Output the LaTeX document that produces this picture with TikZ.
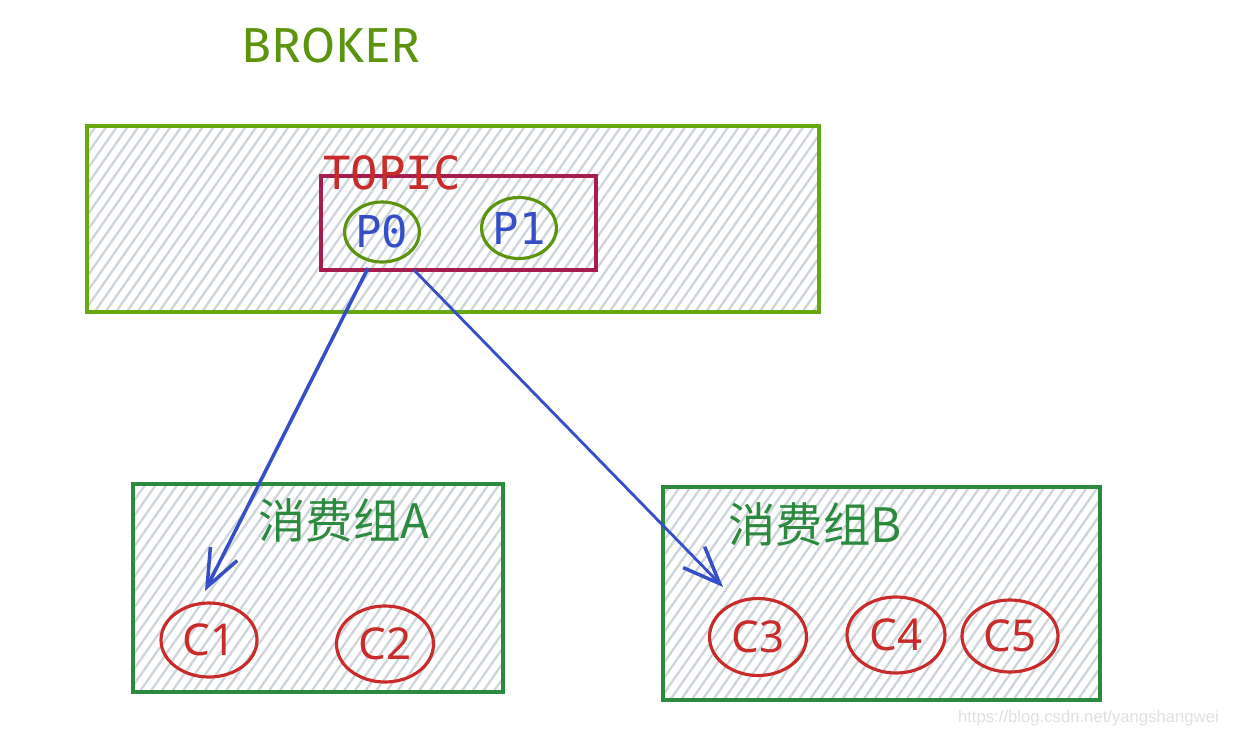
\documentclass[tikz,border=0pt]{standalone}
\usepackage{fontspec}
\setmainfont{Fira Sans}
\newfontfamily\cjk{Noto Sans CJK SC}
\newfontfamily\mono{DejaVu Sans Mono}
\newfontfamily\csans{Noto Sans}
\newfontfamily\wm{Liberation Sans}
\usetikzlibrary{patterns.meta,arrows.meta,shapes.geometric,calc}
\definecolor{brokergreen}{HTML}{66A80F}
\definecolor{brokertext}{HTML}{5C940D}
\definecolor{topicborder}{HTML}{A61E4D}
\definecolor{redtext}{HTML}{C92A2A}
\definecolor{bluetext}{HTML}{364FC7}
\definecolor{groupgreen}{HTML}{2B8A3E}
\definecolor{hatch}{HTML}{CED4DA}
\definecolor{wmgray}{HTML}{E0E0E0}
\tikzset{
  hatched/.style={pattern={Lines[angle=55,distance=5pt,line width=1.3pt]}, pattern color=hatch},
  boxnode/.style={draw, rectangle, line width=2pt, inner sep=0pt},
  pnode/.style={draw=brokertext, ellipse, line width=1.8pt, inner sep=0pt, text=bluetext,
    font=\mono\fontsize{25}{27}\selectfont},
  cnode/.style={draw=redtext, ellipse, line width=1.8pt, inner sep=0pt, text=redtext,
    font=\csans\fontsize{25}{27}\selectfont},
  arr/.style={draw=bluetext, line width=2pt, -{Straight Barb[length=0.74cm,width=0.6cm,line width=2pt]}},
}
\begin{document}
\begin{tikzpicture}[x=0.02cm,y=-0.02cm]
\useasboundingbox (0,0) rectangle (1235,738);
% broker
\node[text=brokertext, font=\fontsize{28}{30}\selectfont] (brokerlabel) at (331,46) {BROKER};
\node[boxnode, draw=brokergreen, hatched, minimum width=732*0.02cm, minimum height=186*0.02cm] (broker) at (453,219) {};
% topic
\node[boxnode, draw=topicborder, minimum width=275*0.02cm, minimum height=94*0.02cm] (topic) at (458.5,223) {};
\node[text=redtext, font=\mono\fontsize{26}{28}\selectfont] (topiclabel) at (392,173) {TOPIC};
\node[pnode, minimum width=70*0.02cm, minimum height=60*0.02cm] (P0) at (382,232) {P0};
\node[pnode, minimum width=70*0.02cm, minimum height=61*0.02cm] (P1) at (519,228) {P1};
% group A
\node[boxnode, draw=groupgreen, hatched, minimum width=370*0.02cm, minimum height=208*0.02cm] (groupA) at (318,588) {};
\node[text=groupgreen, font=\cjk\fontsize{27}{29}\selectfont] (labelA) at (344,520) {消费组A};
\node[cnode, minimum width=96*0.02cm, minimum height=74*0.02cm] (C1) at (209,640) {C1};
\node[cnode, minimum width=97*0.02cm, minimum height=76*0.02cm] (C2) at (385,644) {C2};
% group B
\node[boxnode, draw=groupgreen, hatched, minimum width=437*0.02cm, minimum height=213*0.02cm] (groupB) at (881.5,593.5) {};
\node[text=groupgreen, font=\cjk\fontsize{27}{29}\selectfont] (labelB) at (815,524) {消费组B};
\node[cnode, minimum width=97*0.02cm, minimum height=77*0.02cm] (C3) at (758,637) {C3};
\node[cnode, minimum width=98*0.02cm, minimum height=76*0.02cm] (C4) at (896,635) {C4};
\node[cnode, minimum width=96*0.02cm, minimum height=72*0.02cm] (C5) at (1010,636) {C5};
% arrows
\draw[arr] ($(P0)+(-14,36)$) -- ($(C1)+(-4,-49)$);
\draw[arr, line width=1.6pt] ($(P0)+(32,38)$) -- ($(C3)+(-35,-50)$);
% watermark
\node[anchor=east, text=wmgray, font=\wm\fontsize{9.5}{11}\selectfont] (watermark) at (1225,718) {https://blog.csdn.net/yangshangwei};
\end{tikzpicture}
\end{document}
